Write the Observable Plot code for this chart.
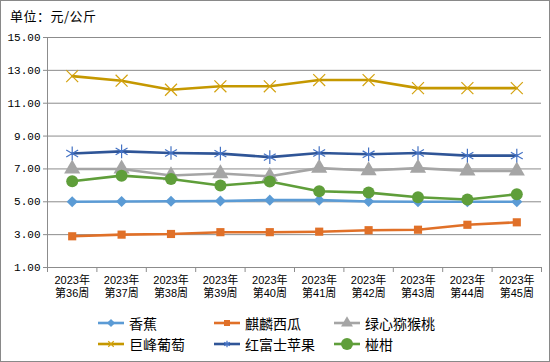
<!DOCTYPE html>
<html>
<head>
<meta charset="utf-8">
<script src="https://cdn.jsdelivr.net/npm/d3@7"></script>
<script src="https://cdn.jsdelivr.net/npm/@observablehq/plot@0.6"></script>
<style>
  body { margin: 0; background: #fff; }
  #wrap { position: relative; width: 548px; height: 360px; border: 1px solid #898989; background: #fff; overflow: hidden; font-family: "Noto Sans CJK SC", sans-serif; }
  #title { position: absolute; left: 9px; top: 5px; font-size: 13px; color: #000; letter-spacing: 0.5px; }
  #chart { position: absolute; left: 0; top: 26px; }
  .leg { position: absolute; display: flex; align-items: center; font-size: 14px; color: #000; }
  .leg svg { margin-right: 4px; }
</style>
</head>
<body>
<div id="wrap">
  <div id="title">单位：元/公斤</div>
  <div id="chart"></div>
</div>
<script>
const years = ["2023年","2023年","2023年","2023年","2023年","2023年","2023年","2023年","2023年","2023年"];
const weeks = ["第36周","第37周","第38周","第39周","第40周","第41周","第42周","第43周","第44周","第45周"];
const seriesNames = ["香蕉","麒麟西瓜","绿心猕猴桃","巨峰葡萄","红富士苹果","椪柑"];
const banana     = [5.00,5.02,5.03,5.05,5.10,5.10,5.02,5.00,5.00,5.00];
const watermelon = [2.90,3.00,3.04,3.15,3.15,3.18,3.27,3.30,3.60,3.75];
const kiwi       = [7.00,7.00,6.60,6.72,6.55,7.05,6.90,7.05,6.88,6.88];
const grape      = [12.65,12.37,11.82,12.03,12.03,12.41,12.41,11.92,11.92,11.92];
const fuji       = [7.94,8.07,7.97,7.93,7.72,7.97,7.89,7.97,7.81,7.81];
const tangerine  = [6.25,6.59,6.39,5.99,6.23,5.64,5.56,5.28,5.14,5.46];
const yTicks = [1,3,5,7,9,11,13,15];

const seriesValues = [banana, watermelon, kiwi, grape, fuji, tangerine];
const styles = [
  {line:"#5B9BD5", symbol:"diamond2", r:5, fill:"#5B9BD5", stroke:"none", d3sym:d3.symbolDiamond2},
  {line:"#E07028", symbol:"square", r:4.6, fill:"#E07028", stroke:"none", d3sym:d3.symbolSquare},
  {line:"#A5A5A5", symbol:"triangle", r:6, fill:"#A5A5A5", stroke:"none", d3sym:d3.symbolTriangle},
  {line:"#C59800", symbol:"times", r:5.5, fill:"none", stroke:"#D4A20E", d3sym:d3.symbolTimes},
  {line:"#2F5597", symbol:"asterisk", r:6.5, fill:"none", stroke:"#4472C4", d3sym:d3.symbolAsterisk},
  {line:"#5F9E3A", symbol:"circle", r:6, fill:"#5F9E3A", stroke:"none", d3sym:d3.symbolCircle}
];

const idx = weeks.map((c, i) => i);
const bounds = d3.range(-0.5, weeks.length, 1);
const labelFont = "Liberation Sans, Noto Sans CJK SC, sans-serif";

const marks = [
  Plot.gridY(yTicks, {stroke: "#8c8c8c", strokeOpacity: 1, strokeWidth: 1}),
  Plot.ruleX([d3.min(idx) - 0.5], {stroke: "#8c8c8c", strokeWidth: 1}),
  Plot.axisY(yTicks, {label: null, tickFormat: d => d.toFixed(2), tickSize: 4, tickPadding: 3, stroke: "#8c8c8c", fontFamily: "Liberation Mono, monospace", fontSize: 11, fill: "#000"}),
  Plot.axisX(bounds, {label: null, tickFormat: () => "", tickSize: 5, stroke: "#8c8c8c"}),
  Plot.axisX(idx, {label: null, tickFormat: i => years[i], tickSize: 0, tickPadding: 9, fontSize: 11, fontFamily: labelFont, fill: "#000"}),
  Plot.axisX(idx, {label: null, tickFormat: i => weeks[i], tickSize: 0, tickPadding: 22, fontSize: 11, fontFamily: labelFont, fill: "#000"})
];
seriesValues.forEach((vals, s) => {
  const data = vals.map((v, i) => ({i, v}));
  const st = styles[s];
  marks.push(Plot.line(data, {x: "i", y: "v", stroke: st.line, strokeWidth: 2.6}));
  marks.push(Plot.dot(data, {x: "i", y: "v", symbol: st.symbol, r: st.r, fill: st.fill, stroke: st.stroke, strokeWidth: st.stroke === "none" ? 0 : 1.2}));
});

const chart = Plot.plot({
  width: 548,
  height: 285,
  marginLeft: 46,
  marginRight: 8,
  marginTop: 10,
  marginBottom: 45,
  style: {fontFamily: "Noto Sans CJK SC, sans-serif", fontSize: "11px", background: "transparent", color: "#000"},
  x: {type: "linear", domain: [-0.5, weeks.length - 0.5], axis: null, label: null},
  y: {domain: [d3.min(yTicks), d3.max(yTicks)], axis: null, label: null},
  marks
});
document.getElementById("chart").appendChild(chart);

// legend
const legPos = [
  {left: 96, top: 312}, {left: 212, top: 312}, {left: 332, top: 312},
  {left: 96, top: 333}, {left: 212, top: 333}, {left: 332, top: 333}
];
const wrap = document.getElementById("wrap");
seriesNames.forEach((name, s) => {
  const st = styles[s];
  const div = document.createElement("div");
  div.className = "leg";
  div.style.left = legPos[s].left + "px";
  div.style.top = legPos[s].top + "px";
  const svg = d3.create("svg").attr("width", 28).attr("height", 20);
  svg.append("line").attr("x1", 1).attr("x2", 27).attr("y1", 10).attr("y2", 10)
    .attr("stroke", st.line).attr("stroke-width", 2.6);
  const size = Math.PI * st.r * st.r;
  svg.append("path").attr("transform", "translate(14,10)")
    .attr("d", d3.symbol(st.d3sym, st.symbol === "circle" ? size : (st.fill === "none" ? st.r*st.r*0.7 : st.r*st.r*1.7))())
    .attr("fill", st.fill).attr("stroke", st.stroke).attr("stroke-width", 1.2);
  div.appendChild(svg.node());
  const span = document.createElement("span");
  span.textContent = name;
  div.appendChild(span);
  wrap.appendChild(div);
});
</script>
</body>
</html>
